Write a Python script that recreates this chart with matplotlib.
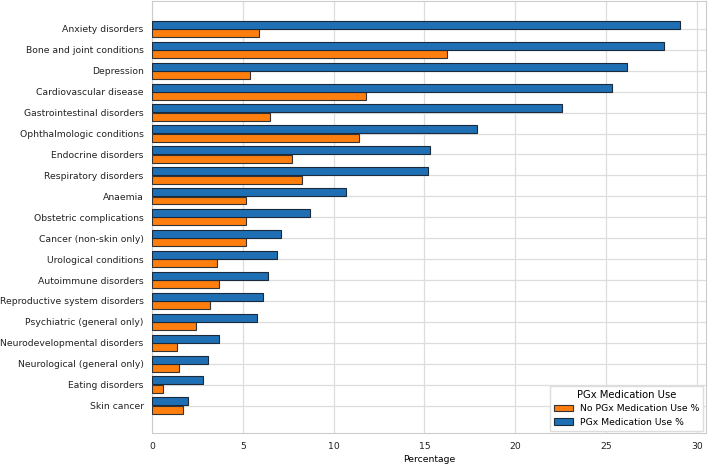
import matplotlib
matplotlib.use("Agg")
import matplotlib.pyplot as plt
import numpy as np

conditions = [
    "Anxiety disorders", "Bone and joint conditions", "Depression",
    "Cardiovascular disease", "Gastrointestinal disorders",
    "Ophthalmologic conditions", "Endocrine disorders", "Respiratory disorders",
    "Anaemia", "Obstetric complications", "Cancer (non-skin only)",
    "Urological conditions", "Autoimmune disorders",
    "Reproductive system disorders", "Psychiatric (general only)",
    "Neurodevelopmental disorders", "Neurological (general only)",
    "Eating disorders", "Skin cancer",
]
pgx_use = [29.05, 28.16, 26.17, 25.35, 22.56, 17.88, 15.3, 15.19, 10.68, 8.7,
           7.1, 6.9, 6.4, 6.1, 5.79, 3.7, 3.1, 2.8, 1.99]
no_pgx_use = [5.88, 16.26, 5.38, 11.78, 6.5, 11.37, 7.69, 8.28, 5.19, 5.19,
              5.19, 3.59, 3.7, 3.21, 2.4, 1.4, 1.51, 0.63, 1.69]

plt.rcParams['font.family'] = 'DejaVu Sans'
plt.rcParams['font.size'] = 6.7

fig = plt.figure(figsize=(7.09, 4.65), dpi=100)
ax = fig.add_axes([0.2144, 0.068, 0.7814, 0.93])

y = np.arange(len(conditions))
h = 0.38
off = 0.2
ax.barh(y + off, no_pgx_use, height=h, color='#ff7f0e', edgecolor='#333333',
        linewidth=0.8, label='No PGx Medication Use %', zorder=3)
ax.barh(y - off, pgx_use, height=h, color='#1f6fb4', edgecolor='#1a2a3a',
        linewidth=0.8, label='PGx Medication Use %', zorder=3)

ax.set_yticks(y)
ax.set_yticklabels(conditions)
ax.set_ylim(len(conditions) - 1 + 1.33, -1.34)
ax.set_xlim(0, 30.5)
ax.set_xticks([0, 5, 10, 15, 20, 25, 30])
ax.set_xlabel('Percentage', labelpad=3)

ax.grid(True, color='#dddddd', linewidth=0.9, zorder=0)
ax.set_axisbelow(True)
for s in ax.spines.values():
    s.set_color('#cccccc')
ax.tick_params(length=0, pad=6, colors='#222222')

leg = ax.legend(title='PGx Medication Use', loc='lower right', frameon=True,
                fancybox=False, edgecolor='#dddddd', framealpha=1,
                borderaxespad=0.3, title_fontsize=7.2)

fig.savefig('out.png', dpi=100)
